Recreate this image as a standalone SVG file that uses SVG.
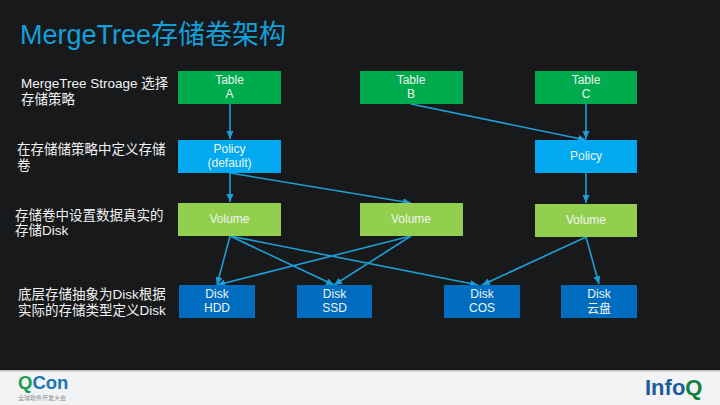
<svg xmlns="http://www.w3.org/2000/svg" width="720" height="405" viewBox="0 0 720 405">
<style>
text{font-family:"Liberation Sans","Noto Sans CJK SC",sans-serif}
.n{fill:#eef5ee;font-size:12px;text-anchor:middle}
.l{fill:#f2f2f2;font-size:13.5px}
.t{fill:#00ab4e}.p{fill:#00a9f0}.v{fill:#93cf4f}.d{fill:#006cc0}
#connectors line{stroke:#1c9fd8;stroke-width:1.6;fill:none;marker-end:url(#a)}
</style>
<defs><marker id="a" markerUnits="userSpaceOnUse" markerWidth="9" markerHeight="8" refX="8" refY="3.5" orient="auto"><path d="M0 0L8 3.5L0 7z" fill="#1c9fd8"/></marker></defs>
<rect width="720" height="405" fill="#18191b"/>
<rect y="370" width="720" height="35" fill="#f1f3f4"/>
<rect y="370" width="720" height="1.5" fill="#bbbdbe"/>
<text x="20" y="44" font-size="27" fill="#14a0dc">MergeTree存储卷架构</text>
<g id="labels">
<text class="l" x="21" y="88">MergeTree Stroage 选择</text>
<text class="l" x="21" y="104">存储策略</text>
<text class="l" x="17" y="154">在存储储策略中定义存储</text>
<text class="l" x="17" y="170">卷</text>
<text class="l" x="15" y="220">存储卷中设置数据真实的</text>
<text class="l" x="15" y="235">存储Disk</text>
<text class="l" x="18" y="299">底层存储抽象为Disk根据</text>
<text class="l" x="18" y="315">实际的存储类型定义Disk</text>
</g>
<g id="connectors">
<line x1="230" y1="104" x2="230" y2="139"/>
<line x1="411" y1="104" x2="586" y2="140"/>
<line x1="586" y1="104" x2="586" y2="139"/>
<line x1="230" y1="173" x2="230" y2="202"/>
<line x1="230" y1="173" x2="411" y2="203"/>
<line x1="586" y1="173" x2="586" y2="203"/>
<line x1="230" y1="236" x2="217" y2="285"/>
<line x1="230" y1="236" x2="334" y2="285"/>
<line x1="230" y1="236" x2="478" y2="285"/>
<line x1="411" y1="236" x2="217" y2="285"/>
<line x1="411" y1="236" x2="334" y2="285"/>
<line x1="586" y1="237" x2="482" y2="285"/>
<line x1="586" y1="237" x2="599" y2="284"/>
</g>
<g id="table-a"><rect class="t" x="178" y="71" width="103" height="33"/><text class="n" x="229.500" y="84">Table</text><text class="n" x="229.500" y="98">A</text></g>
<g id="table-b"><rect class="t" x="360" y="71" width="103" height="33"/><text class="n" x="411" y="84">Table</text><text class="n" x="411" y="98">B</text></g>
<g id="table-c"><rect class="t" x="535" y="71" width="102" height="33"/><text class="n" x="586" y="84">Table</text><text class="n" x="586" y="98">C</text></g>
<g id="policy-default"><rect class="p" x="178" y="140" width="103" height="33"/><text class="n" x="229.500" y="153">Policy</text><text class="n" x="229.500" y="167">(default)</text></g>
<g id="policy"><rect class="p" x="535" y="140" width="102" height="33"/><text class="n" x="586" y="160">Policy</text></g>
<g id="volume-a"><rect class="v" x="178" y="203" width="103" height="33"/><text class="n" x="229.500" y="223">Volume</text></g>
<g id="volume-b"><rect class="v" x="360" y="203" width="103" height="33"/><text class="n" x="411" y="223">Volume</text></g>
<g id="volume-c"><rect class="v" x="535" y="204" width="102" height="33"/><text class="n" x="586" y="224">Volume</text></g>
<g id="disk-hdd"><rect class="d" x="179" y="285" width="76" height="33"/><text class="n" x="217" y="298">Disk</text><text class="n" x="217" y="312">HDD</text></g>
<g id="disk-ssd"><rect class="d" x="297" y="285" width="75" height="33"/><text class="n" x="334.500" y="298">Disk</text><text class="n" x="334.500" y="312">SSD</text></g>
<g id="disk-cos"><rect class="d" x="444" y="285" width="76" height="33"/><text class="n" x="482" y="298">Disk</text><text class="n" x="482" y="312">COS</text></g>
<g id="disk-cloud"><rect class="d" x="561" y="285" width="76" height="33"/><text class="n" x="599" y="298">Disk</text><text class="n" x="599" y="313">云盘</text></g>
<g id="qcon-logo"><text x="18" y="389" font-size="18.500" font-weight="700" fill="#1a9e4e">Q<tspan fill="#1c74b8">Con</tspan></text><text x="18" y="399.500" font-size="6" fill="#8a8f92">全球软件开发大会</text></g>
<g id="infoq-logo"><text x="645" y="395" font-size="22" font-weight="700" fill="#1c5a9e">Info<tspan fill="#12803f">Q</tspan></text></g>
</svg>
